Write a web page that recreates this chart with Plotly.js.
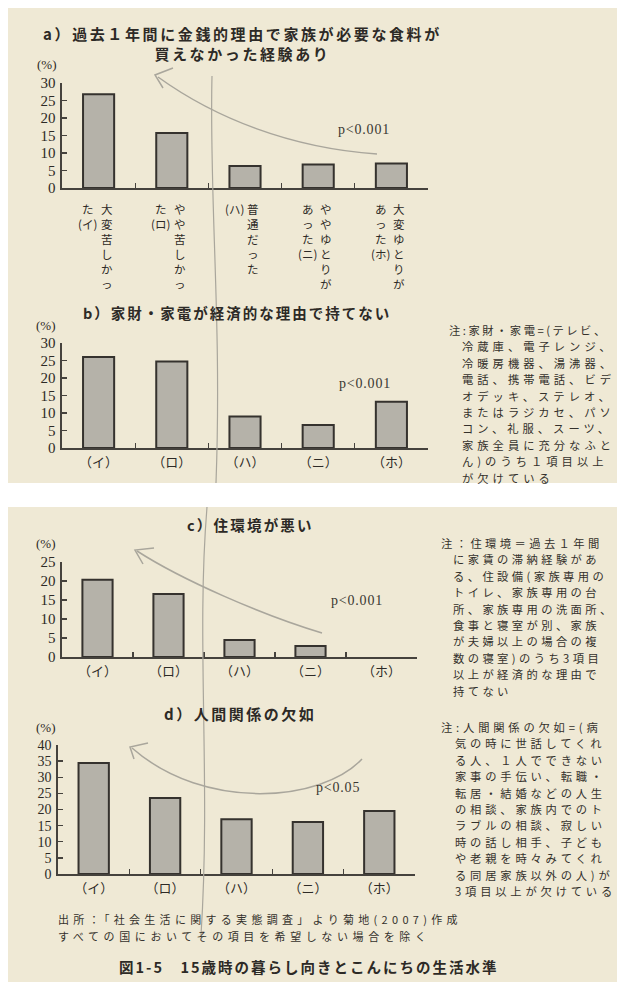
<!DOCTYPE html>
<html>
<head>
<meta charset="utf-8">
<script src="https://cdn.plot.ly/plotly-3.0.1.min.js"></script>
<style>
  html, body { margin: 0; padding: 0; background: #ffffff; }
  #fig { width: 617px; height: 985px; }
</style>
</head>
<body>
<div id="fig"></div>
<script>
// ---- data -------------------------------------------------------------
const categories = ['（イ）', '（ロ）', '（ハ）', '（ニ）', '（ホ）'];

// panel a labels are set vertically in two columns (right column read first)
const labelColRight = ['大変苦しかっ', 'やや苦しかっ', '普通だった', 'ややゆとりが', '大変ゆとりが'];
const labelColLeft  = ['た(イ)', 'た(ロ)', '(ハ)', 'あった(ニ)', 'あった(ホ)'];

// percentages (no bar is printed for (ホ) in panel c)
const foodValues     = [26.8, 15.7, 6.3, 6.7, 7.0];
const goodsValues    = [26.0, 24.7, 9.0, 6.6, 13.2];
const housingValues  = [20.3, 16.6, 4.5, 2.9, null];
const relationValues = [34.4, 23.6, 17.0, 16.1, 19.5];

// axis maxima (%)
const yMaxA = 30, yMaxB = 30, yMaxC = 25, yMaxD = 40;
const yStep = 5;

const titleA  = ['a）過去１年間に金銭的理由で家族が必要な食料が', '買えなかった経験あり'];
const titleB  = 'b）家財・家電が経済的な理由で持てない';
const titleC  = 'c）住環境が悪い';
const titleD  = 'd）人間関係の欠如';
const pA = 'p<0.001', pB = 'p<0.001', pC = 'p<0.001', pD = 'p<0.05';
const unitLabel = '(%)';

const noteB = ['注:家財・家電=(テレビ、', '冷蔵庫、電子レンジ、', '冷暖房機器、湯沸器、', '電話、携帯電話、ビデ',
  'オデッキ、ステレオ、', 'またはラジカセ、パソ', 'コン、礼服、スーツ、', '家族全員に充分なふと',
  'ん)のうち１項目以上', 'が欠けている'];
const noteC = ['注：住環境＝過去１年間', 'に家賃の滞納経験があ', 'る、住設備(家族専用の', 'トイレ、家族専用の台',
  '所、家族専用の洗面所、', '食事と寝室が別、家族', 'が夫婦以上の場合の複', '数の寝室)のうち3項目',
  '以上が経済的な理由で', '持てない'];
const noteD = ['注:人間関係の欠如=(病', '気の時に世話してくれ', 'る人、１人でできない', '家事の手伝い、転職・',
  '転居・結婚などの人生', 'の相談、家族内でのト', 'ラブルの相談、寂しい', '時の話し相手、子ども',
  'や老親を時々みてくれ', 'る同居家族以外の人)が', '3項目以上が欠けている'];
const sourceLines = ['出所：「社会生活に関する実態調査」より菊地(2007)作成',
  'すべての国においてその項目を希望しない場合を除く'];
const caption = '図1-5　15歳時の暮らし向きとこんにちの生活水準';

// ---- styling ------------------------------------------------------------
const W = 617, H = 985;
const JP = '"Noto Sans CJK JP", "Noto Sans", sans-serif';
const SERIF = '"Liberation Serif", "DejaVu Serif", serif';
const PAPER = '#efe9d5';
const INK = '#2d2a26';
const NOTE_INK = '#34312c';
const AXIS = '#45423d';
const BAR = '#b5b2a9';
const EDGE = '#35322e';
const PENCIL = '#a9a69c';

const px = x => x / W;
const py = y => 1 - y / H;

const panels = [
  { s: '',  x0: 62, x1: 428, top: 83,  base: 188, max: yMaxA, values: foodValues,     ticks: false, tf: 15 },
  { s: '2', x0: 62, x1: 428, top: 343, base: 448, max: yMaxB, values: goodsValues,    ticks: true,  tf: 15 },
  { s: '3', x0: 62, x1: 417, top: 562, base: 657, max: yMaxC, values: housingValues,  ticks: true,  tf: 15 },
  { s: '4', x0: 58, x1: 415, top: 745, base: 874, max: yMaxD, values: relationValues, ticks: true,  tf: 14 }
];

const data = [];
const layout = {
  width: W, height: H,
  margin: { l: 0, r: 0, t: 0, b: 0 },
  paper_bgcolor: '#ffffff',
  plot_bgcolor: 'rgba(0,0,0,0)',
  showlegend: false,
  hovermode: false,
  bargap: 0.575,
  shapes: [],
  annotations: []
};

panels.forEach(p => {
  data.push({
    type: 'bar',
    x: categories,
    y: p.values,
    xaxis: 'x' + p.s,
    yaxis: 'y' + p.s,
    marker: { color: BAR, line: { color: EDGE, width: 2 } },
    hoverinfo: 'skip'
  });
  layout['xaxis' + p.s] = {
    domain: [px(p.x0), px(p.x1)],
    anchor: 'y' + p.s,
    type: 'category',
    categoryarray: categories,
    range: [-0.5, categories.length - 0.5],
    showline: true, linecolor: AXIS, linewidth: 1.6,
    ticks: 'inside', tickson: 'boundaries', ticklen: 5, tickwidth: 1.3, tickcolor: AXIS,
    showgrid: false, zeroline: false,
    showticklabels: p.ticks,
    tickfont: { family: JP, size: 13, color: INK },
    ticklabelstandoff: 2,
    fixedrange: true
  };
  layout['yaxis' + p.s] = {
    domain: [py(p.base), py(p.top)],
    anchor: 'x' + p.s,
    range: [0, p.max],
    tick0: 0, dtick: yStep,
    showline: true, linecolor: AXIS, linewidth: 1.6,
    ticks: 'inside', ticklen: 5, tickwidth: 1.3, tickcolor: AXIS,
    showgrid: false, zeroline: false,
    tickfont: { family: SERIF, size: p.tf, color: INK },
    ticklabelstandoff: 2,
    fixedrange: true
  };
});

// page background (two printed halves with a white gap between them)
layout.shapes.push(
  { type: 'rect', xref: 'paper', yref: 'paper', layer: 'below', line: { width: 0 }, fillcolor: PAPER,
    x0: px(8), x1: px(617), y0: py(483), y1: py(8) },
  { type: 'rect', xref: 'paper', yref: 'paper', layer: 'below', line: { width: 0 }, fillcolor: PAPER,
    x0: px(8), x1: px(617), y0: py(982), y1: py(507) }
);

// hand-drawn pencil strokes: trend arrows and a long vertical line
function pathOf(cmds) {
  return cmds.map(c => c[0] + ' ' + c.slice(1).reduce((acc, v, i) => {
    if (i % 2 === 0) acc.push(px(v).toFixed(5)); else acc[acc.length - 1] += ',' + py(v).toFixed(5);
    return acc;
  }, []).join(' ')).join(' ');
}
function pencil(cmds, width) {
  layout.shapes.push({ type: 'path', xref: 'paper', yref: 'paper', layer: 'above',
    path: pathOf(cmds), line: { color: PENCIL, width: width || 1.5 } });
}
// a
pencil([['M', 377, 154], ['C', 290, 148, 215, 118, 158, 77]]);
pencil([['M', 173, 68], ['L', 155, 75], ['L', 163, 88]]);
// c
pencil([['M', 322, 633], ['C', 262, 615, 182, 580, 137, 551]]);
pencil([['M', 154, 548], ['L', 135, 550], ['L', 143, 564]]);
// d
pencil([['M', 362, 759], ['C', 322, 802, 205, 812, 132, 748]]);
pencil([['M', 148, 743], ['L', 130, 747], ['L', 134, 759]]);
// vertical line
pencil([['M', 212, 76], ['C', 209, 200, 222, 320, 216, 483]], 1.2);
pencil([['M', 207, 507], ['C', 196, 640, 211, 780, 201, 935]], 1.2);

// ---- text --------------------------------------------------------------
// per-annotation letter spacing, applied after drawing
const spacing = [];
function text(t, x, y, font, ls, extra) {
  const a = Object.assign({
    text: t, xref: 'paper', yref: 'paper', x: px(x), y: py(y),
    xanchor: 'left', yanchor: 'middle', align: 'left',
    showarrow: false, borderpad: 0, font: font
  }, extra || {});
  layout.annotations.push(a);
  spacing.push(ls || 0);
}
const fTitle = { family: JP, size: 15, color: INK, weight: 'bold' };
text(titleA.join('<br>'), 242, 22, fTitle, 2.6, { xanchor: 'center', align: 'center', yanchor: 'top' });
text(titleB, 82, 312, Object.assign({}, fTitle, { size: 14.5 }), 2.0);
text(titleC, 186, 524, Object.assign({}, fTitle, { size: 14.5 }), 2.2);
text(titleD, 163, 713, fTitle, 2.5);

const fUnit = { family: SERIF, size: 13, color: INK };
text(unitLabel, 36, 65, fUnit, 0);
text(unitLabel, 35, 325, fUnit, 0);
text(unitLabel, 35, 543, fUnit, 0);
text(unitLabel, 35, 727, fUnit, 0);

const fP = { family: SERIF, size: 14, color: '#3a3732' };
text(pA, 337, 130, fP, 0.8);
text(pB, 338, 383, fP, 0.8);
text(pC, 330, 600, fP, 0.8);
text(pD, 315, 787, fP, 0.8);

// notes: one line per annotation, the first line hangs to the left
const fNote = { family: JP, size: 11.3, color: NOTE_INK };
const NOTE_PITCH = 16.4;
function note(lines, xFirst, xRest, yFirst, ls, lsFirst) {
  lines.forEach((ln, k) => text(ln, k === 0 ? xFirst : xRest, yFirst + k * NOTE_PITCH, fNote,
    k === 0 ? lsFirst : ls));
}
note(noteB, 448, 461, 330, 4.0, 2.5);
note(noteC, 440, 452, 543, 3.4, 3.4);
note(noteD, 440, 454, 727, 3.8, 3.8);

const fSource = { family: JP, size: 11, color: NOTE_INK };
text(sourceLines[0], 57, 919, fSource, 4.3);
text(sourceLines[1], 57, 935.5, fSource, 4.6);
text(caption, 118, 966, { family: JP, size: 14.5, color: INK, weight: 'bold' }, 2.0);

// panel a: vertical category labels, one glyph (or bracketed mark) per line
const tokens = s => s.match(/\([^)]*\)|./g);
function column(str, cat, shift) {
  layout.annotations.push({
    text: tokens(str).join('<br>'), xref: 'x', yref: 'paper', x: cat, y: py(200),
    xanchor: 'center', yanchor: 'top', align: 'center', xshift: shift,
    showarrow: false, borderpad: 0,
    font: { family: JP, size: 11.5, color: INK }
  });
  spacing.push(0);
}
categories.forEach((c, i) => {
  column(labelColRight[i], c, 8);
  column(labelColLeft[i], c, -11);
});

Plotly.newPlot('fig', data, layout, { staticPlot: true }).then(() => {
  document.querySelectorAll('#fig g.annotation').forEach(g => {
    const i = +g.getAttribute('data-index');
    const t = g.querySelector('text');
    if (t && spacing[i]) t.style.letterSpacing = spacing[i] + 'px';
  });
});
</script>
</body>
</html>
